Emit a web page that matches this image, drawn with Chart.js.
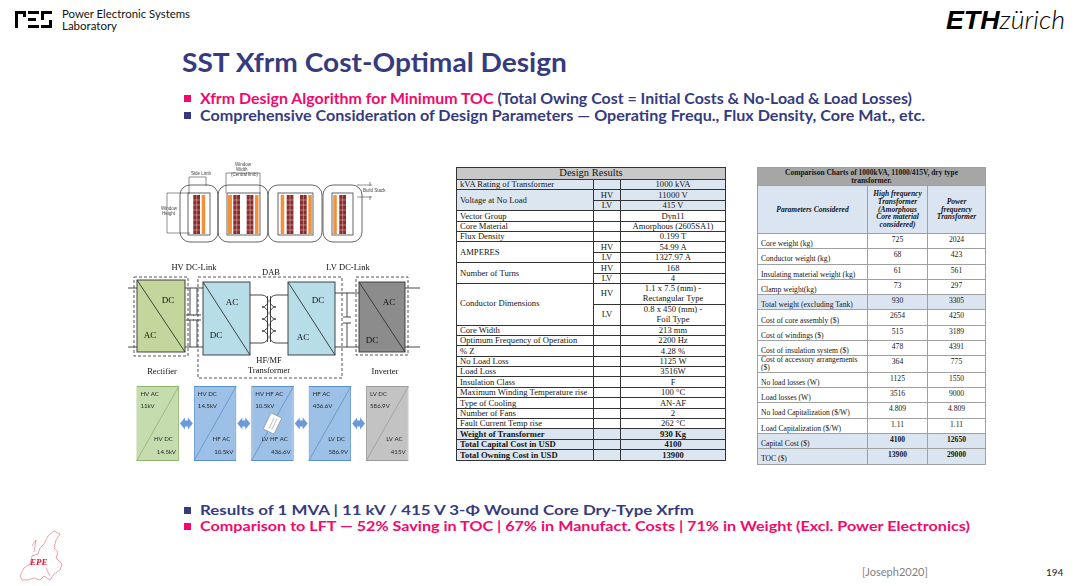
<!DOCTYPE html>
<html>
<head>
<meta charset="utf-8">
<script src="https://cdn.jsdelivr.net/npm/chart.js@4.4.1/dist/chart.umd.min.js"></script>
<style>
body { margin: 0; width: 1080px; height: 586px; background: #fff; position: relative; overflow: hidden; font-family: Lato, "Open Sans", sans-serif; }
.abs { position: absolute; white-space: nowrap; transform-origin: 0 0; line-height: 1; }
.navy { color: #363b80; }
.pink { color: #f2096b; }
.sq { position: absolute; width: 7px; height: 7px; }
table { position: absolute; border-collapse: collapse; table-layout: fixed; font-family: "Liberation Serif", serif; color: #151515; }
#design { left: 456px; top: 167px; width: 269px; font-size: 8.6px; }
#design td { border: 1px solid #333; padding: 0 3px; line-height: 1; height: 9.4px; white-space: nowrap; overflow: hidden; }
#design tr.dbl td { height: 19.8px; white-space: pre-line; line-height: 1.15; }
#design td.s, #design td.v { text-align: center; }
#design tr.hd td { background: #c8c8c8; text-align: center; font-size: 10.5px; height: 11px; }
#design tr.sh td { background: #dce6f1; }
#design tr.b td { font-weight: bold; }
#comp { left: 757px; top: 167px; width: 228px; font-size: 7.6px; }
#comp td { border: 0.7px solid #a0a0a0; padding: 0 3px; height: 14.3px; line-height: 0.95; }
#comp td.v { text-align: center; vertical-align: top; padding-top: 2px; height: 12.3px; }
#comp td.p { vertical-align: bottom; padding-bottom: 1px; height: 13.3px; }
#comp tr.hd td { background: #a6a6a6; font-weight: bold; text-align: center; height: 17px; font-size: 7.5px; vertical-align: middle; padding: 0; white-space: pre-line; line-height: 1.05; }
#comp tr.ch td { background: #dbe5f1; font-weight: bold; font-style: italic; text-align: center; height: 47px; vertical-align: middle; line-height: 1.05; font-size: 7.5px; }
#comp tr.sh td { background: #dbe5f1; }
#comp tr.b td.v { font-weight: bold; }
</style>
</head>
<body>

<div id="pes"></div>
<div class="abs fit" data-w="128" style="left:62px;top:8px;font-size:11.5px;color:#111">Power Electronic Systems</div>
<div class="abs" style="left:62px;top:19.8px;font-size:11.5px;color:#111">Laboratory</div>
<div class="abs fit" data-w="119" style="left:946px;top:7px;font-size:25px;color:#000"><b style="font-style:italic;font-weight:900;font-family:'Liberation Sans',Arial">ETH</b><span style="font-style:italic;font-weight:300">zürich</span></div>

<div class="abs navy fit" data-w="385" style="left:182px;top:49px;font-size:26px;font-weight:bold">SST Xfrm Cost-Optimal Design</div>

<div class="sq" style="left:184px;top:95px;background:#f2096b"></div>
<div class="abs fit" data-w="712" style="left:200px;top:90.8px;font-size:15px;font-weight:bold"><span class="pink">Xfrm Design Algorithm for Minimum TOC</span> <span class="navy">(Total Owing Cost = Initial Costs &amp; No-Load &amp; Load Losses)</span></div>
<div class="sq" style="left:184px;top:111.5px;background:#363b80"></div>
<div class="abs navy fit" data-w="725" style="left:200px;top:107.5px;font-size:15px;font-weight:bold">Comprehensive Consideration of Design Parameters — Operating Frequ., Flux Density, Core Mat., etc.</div>

<canvas id="sketch" width="300" height="230" style="position:absolute;left:125px;top:155px"></canvas>
<canvas id="stages" width="287" height="77" style="position:absolute;left:129px;top:385px"></canvas>
<canvas id="epe" width="60" height="60" style="position:absolute;left:10px;top:524px"></canvas>

<table id="design"><colgroup><col style="width:137px"><col style="width:27px"><col style="width:105px"></colgroup><tbody></tbody></table>
<table id="comp"><colgroup><col style="width:110px"><col style="width:60px"><col style="width:58px"></colgroup><tbody></tbody></table>

<div class="sq" style="left:184px;top:507px;background:#363b80"></div>
<div class="abs navy fit" data-w="494" style="left:200px;top:502.7px;font-size:14px;font-weight:bold">Results of 1 MVA | 11 kV / 415 V 3-Φ Wound Core Dry-Type Xrfm</div>
<div class="sq" style="left:184px;top:523px;background:#f2096b"></div>
<div class="abs pink fit" data-w="770" style="left:200px;top:519.4px;font-size:14px;font-weight:bold">Comparison to LFT —  52% Saving in TOC | 67% in Manufact. Costs | 71% in Weight (Excl. Power Electronics)</div>

<div class="abs" style="left:862px;top:566px;font-size:11px;color:#7f7f7f">[Joseph2020]</div>
<div class="abs" style="left:1046px;top:567px;font-size:10px;color:#222">194</div>

<script>
// design results table
const designTitle = "Design Results";
const designParams = ["kVA Rating of Transformer", "Voltage at No Load", "Vector Group", "Core Material", "Flux Density", "AMPERES", "Number of Turns", "Conductor Dimensions", "Core Width", "Optimum Frequency of Operation", "% Z", "No Load Loss", "Load Loss", "Insulation Class", "Maximum Winding Temperature rise", "Type of Cooling", "Number of Fans", "Fault Current Temp rise", "Weight of Transformer", "Total Capital Cost in USD", "Total Owning Cost in USD"];
const designSides = [[""], ["HV", "LV"], [""], [""], [""], ["HV", "LV"], ["HV", "LV"], ["HV", "LV"], [""], [""], [""], [""], [""], [""], [""], [""], [""], [""], [""], [""], [""]];
const designValues = [["1000 kVA"], ["11000 V", "415 V"], ["Dyn11"], ["Amorphous (2605SA1)"], ["0.199 T"], ["54.99 A", "1327.97 A"], ["168", "4"], ["1.1 x 7.5 (mm) -\nRectangular Type", "0.8 x 450 (mm) -\nFoil Type"], ["213 mm"], ["2200 Hz"], ["4.28 %"], ["1125 W"], ["3516W"], ["F"], ["100 °C"], ["AN-AF"], ["2"], ["262 °C"], ["930 Kg"], ["4100"], ["13900"]];
const designShaded = [0, 1, 18, 19, 20];
const designBold = [18, 19, 20];

// comparison table
const compTitle = "Comparison Charts of 1000kVA, 11000/415V, dry type\ntransformer.";
const compHeads = ["Parameters Considered", "High frequency Transformer (Amorphous Core material considered)", "Power frequency Transformer"];
const compParams = ["Core weight (kg)", "Conductor weight (kg)", "Insulating material weight (kg)", "Clamp weight(kg)", "Total weight (excluding Tank)", "Cost of core assembly ($)", "Cost of windings ($)", "Cost of insulation system ($)", "Cost of accessory arrangements ($)", "No load losses (W)", "Load losses (W)", "No load Capitalization ($/W)", "Load Capitalization ($/W)", "Capital Cost ($)", "TOC ($)"];
const hfValues = ["725", "68", "61", "73", "930", "2654", "515", "478", "364", "1125", "3516", "4.809", "1.11", "4100", "13900"];
const pfValues = ["2024", "423", "561", "297", "3305", "4250", "3189", "4391", "775", "1550", "9000", "4.809", "1.11", "12650", "29000"];
const compShaded = [4, 13, 14];
const compBold = [13, 14];

// converter stages of the block chain
const stageTop = ["HV AC", "HV DC", "HV HF AC", "HF AC", "LV DC"];
const stageTopV = ["11kV", "14.5kV", "10.5kV", "436.6V", "586.9V"];
const stageBottom = ["HV DC", "HF AC", "LV HF AC", "LV DC", "LV AC"];
const stageBottomV = ["14.5kV", "10.5kV", "436.6V", "586.9V", "415V"];
const stageFill = ["#c4dcae", "#9dc0e6", "#9dc0e6", "#9dc0e6", "#c3c3c3"];
const stageEdge = ["#8fb36a", "#5a8fca", "#5a8fca", "#5a8fca", "#9a9a9a"];

let html = `<tr class="hd"><td colspan="3">${designTitle}</td></tr>`;
designParams.forEach((p, i) => {
	const vals = designValues[i];
	let cls = (designShaded.includes(i) ? "sh " : "") + (designBold.includes(i) ? "b" : "");
	vals.forEach((v, j) => {
		html += `<tr class="${cls}${v.includes("\n") ? " dbl" : ""}">`;
		if (j === 0) html += `<td class="p" rowspan="${vals.length}">${p}</td>`;
		html += `<td class="s">${designSides[i][j]}</td><td class="v">${v}</td></tr>`;
	});
});
document.querySelector("#design tbody").innerHTML = html;

html = `<tr class="hd"><td colspan="3">${compTitle}</td></tr>`;
html += `<tr class="ch">${compHeads.map((h) => `<td>${h}</td>`).join("")}</tr>`;
compParams.forEach((p, i) => {
	let cls = (compShaded.includes(i) ? "sh " : "") + (compBold.includes(i) ? "b" : "");
	html += `<tr class="${cls}"><td class="p">${p}</td><td class="v">${hfValues[i]}</td><td class="v">${pfValues[i]}</td></tr>`;
});
document.querySelector("#comp tbody").innerHTML = html;

// PES logo bars
const pesBars = [[15, 11, 11, 2.6], [15, 11, 2.6, 17], [23.4, 11, 2.6, 6], [28, 11, 11, 2.6], [28, 18, 8, 2.6], [28, 25.4, 11, 2.6], [41, 11, 11, 2.6], [41, 11, 2.6, 9], [41, 25.4, 11, 2.6], [49.4, 20, 2.6, 8]];
document.getElementById("pes").innerHTML = pesBars.map((b) => `<div style="position:absolute;left:${b[0]}px;top:${b[1]}px;width:${b[2]}px;height:${b[3]}px;background:#000"></div>`).join("");

function rrect(c, x, y, w, h, r) {
	c.beginPath();
	c.moveTo(x + r, y);
	c.arcTo(x + w, y, x + w, y + h, r);
	c.arcTo(x + w, y + h, x, y + h, r);
	c.arcTo(x, y + h, x, y, r);
	c.arcTo(x, y, x + w, y, r);
	c.closePath();
	c.stroke();
}
function line(c, x1, y1, x2, y2) {
	c.beginPath(); c.moveTo(x1, y1); c.lineTo(x2, y2); c.stroke();
}

// EPE logo, a loose outline of Europe
const ep = document.getElementById("epe").getContext("2d");
ep.strokeStyle = "rgba(235,40,60,0.55)";
ep.lineWidth = 0.8;
ep.beginPath();
[[10, 52], [14, 44], [20, 40], [22, 32], [28, 30], [30, 24], [34, 20], [38, 12], [44, 7], [50, 10], [46, 16], [44, 24], [48, 28], [46, 34], [52, 40], [50, 46], [44, 50], [40, 56], [34, 52], [30, 56], [24, 54], [18, 56], [12, 56], [10, 52]].forEach((p, k) => (k ? ep.lineTo(p[0], p[1]) : ep.moveTo(p[0], p[1])));
ep.stroke();
line(ep, 22, 22, 26, 16); line(ep, 26, 16, 24, 28); line(ep, 36, 44, 40, 52);
ep.fillStyle = "#e8102a";
ep.font = "italic bold 9px 'Liberation Serif'";
ep.fillText("EPE", 20, 41);

// illustrations: core cross-section and SST topology
const sk = document.getElementById("sketch").getContext("2d");
sk.translate(-125, -155);

sk.strokeStyle = "#555";
sk.lineWidth = 0.9;
[[180, 185, 38, 57], [218, 185, 50, 57], [268, 185, 54, 57], [323, 185, 39, 57]].forEach((r) => rrect(sk, r[0], r[1], r[2], r[3], 10));
[[188, 193, 22, 42], [227, 193, 33, 42], [278, 193, 35, 42], [332, 193, 21, 42]].forEach((r) => sk.strokeRect(r[0], r[1], r[2], r[3]));
const coils = [[193.3, 6.7, "b"], [201.7, 3.5, "o"], [228, 4, "o"], [233.3, 6.7, "b"], [246.7, 6.7, "b"], [255, 3.5, "o"], [280.7, 3.5, "o"], [286.7, 6.7, "b"], [300, 6.7, "b"], [308.3, 3.5, "o"], [333.3, 3.5, "o"], [339.3, 6.7, "b"]];
coils.forEach(([x, w, t]) => {
	sk.fillStyle = t === "b" ? "#8a2c2c" : "#f1913a";
	sk.fillRect(x, 195, w, 39);
	if (t === "b") {
		sk.strokeStyle = "#e9caca";
		sk.lineWidth = 0.5;
		line(sk, x + w / 2, 195, x + w / 2, 234);
		for (let yy = 200; yy < 234; yy += 5) line(sk, x, yy, x + w, yy);
	}
});
sk.strokeStyle = "#444";
sk.lineWidth = 0.6;
line(sk, 189, 177, 206, 177); line(sk, 189, 177, 189, 193); line(sk, 206, 177, 206, 186);
line(sk, 226, 173, 260, 173); line(sk, 226, 173, 226, 193); line(sk, 260, 173, 260, 193);
line(sk, 167, 193, 167, 233); line(sk, 167, 193, 190, 193); line(sk, 167, 233, 190, 233);
line(sk, 357, 185, 372, 185); line(sk, 357, 197, 372, 197); line(sk, 370, 182, 370, 186); line(sk, 370, 196, 370, 200);
sk.fillStyle = "#444";
sk.font = "4.5px 'Liberation Sans'";
sk.fillText("Side Limb", 191, 175);
sk.fillText("Window", 235, 166); sk.fillText("Width", 236, 171); sk.fillText("(Central limb)", 231, 176);
sk.fillText("Window", 161, 210); sk.fillText("Height", 162, 215);
sk.fillText("Build Stack", 363, 192);

// topology
sk.lineWidth = 0.9;
sk.strokeStyle = "#333";
function conv(x, y, w, h, fill) {
	sk.fillStyle = fill;
	sk.fillRect(x, y, w, h);
	sk.strokeRect(x, y, w, h);
	line(sk, x, y, x + w, y + h);
}
function cap(x, y1, y2, gapTop, gapBot) {
	line(sk, x, y1, x, gapTop); line(sk, x - 4, gapTop, x + 4, gapTop);
	line(sk, x - 4, gapBot, x + 4, gapBot); line(sk, x, gapBot, x, y2);
}
line(sk, 128, 288, 137, 288); line(sk, 128, 347, 137, 347);
line(sk, 185, 288, 203, 288); line(sk, 185, 347, 203, 347);
line(sk, 335, 293, 359, 293); line(sk, 335, 347, 359, 347);
line(sk, 405, 288, 420, 288); line(sk, 405, 347, 420, 347);
cap(190, 288, 347, 315, 320); cap(197, 288, 347, 315, 320);
cap(347, 293, 347, 317, 323);
conv(137, 280, 48, 72, "#c3d69b");
conv(203, 282, 47, 73, "#b7dde8");
conv(288, 282, 47, 73, "#b7dde8");
conv(359, 282, 46, 70, "#8c8c8c");
// transformer windings
line(sk, 250, 295, 262, 295); line(sk, 250, 343, 262, 343);
line(sk, 276, 295, 288, 295); line(sk, 276, 343, 288, 343);
for (let k = 0; k < 4; k++) {
	sk.beginPath(); sk.arc(262, 301 + k * 12, 6, -Math.PI / 2, Math.PI / 2); sk.stroke();
	sk.beginPath(); sk.arc(276, 301 + k * 12, 6, Math.PI / 2, Math.PI * 1.5); sk.stroke();
}
line(sk, 267.5, 296, 267.5, 342); line(sk, 270.5, 296, 270.5, 342);
sk.strokeStyle = "#444";
sk.setLineDash([3, 2]);
sk.strokeRect(134, 277, 54, 79);
sk.strokeRect(198, 277, 144, 101);
sk.strokeRect(356, 277, 52, 78);
sk.setLineDash([]);
sk.fillStyle = "#111";
sk.font = "9px 'Liberation Serif'";
sk.textAlign = "center";
[["DC", 168, 303], ["AC", 150, 338], ["AC", 232, 305], ["DC", 216, 338], ["DC", 318, 303], ["AC", 303, 340], ["AC", 389, 305], ["DC", 372, 343]].forEach((t) => sk.fillText(t[0], t[1], t[2]));
sk.font = "8.5px 'Liberation Serif'";
[["HV DC-Link", 194, 270], ["DAB", 271, 275], ["LV DC-Link", 348, 270], ["HF/MF", 269, 363], ["Transformer", 269, 373], ["Rectifier", 162, 374], ["Inverter", 385, 374]].forEach((t) => sk.fillText(t[0], t[1], t[2]));

// converter chain drawn as floating bars
const stagePlugin = {
	id: "stageLabels",
	afterDatasetsDraw(chart) {
		const c = chart.ctx;
		const bars = chart.getDatasetMeta(0).data;
		c.save();
		bars.forEach((b, i) => {
			const { x, y, base, width } = b.getProps(["x", "y", "base", "width"], true);
			const l = x - width / 2, r = x + width / 2, cy = (y + base) / 2;
			c.strokeStyle = stageEdge[i];
			c.lineWidth = 0.8;
			line(c, l, base, r, y);
			c.fillStyle = "#262626";
			c.font = "6.1px Lato";
			c.textAlign = "left";
			c.fillText(stageTop[i], l + 4, y + 10);
			c.fillText(stageTopV[i], l + 4, y + 22);
			c.textAlign = "right";
			c.fillText(stageBottom[i], r - 6, base - 20);
			c.fillText(stageBottomV[i], r - 3, base - 7);
			if (i === 2) {
				c.save();
				c.translate(x, cy);
				c.rotate(0.45);
				c.fillStyle = "#fff";
				c.strokeStyle = "#999";
				c.fillRect(-6, -9, 12, 18);
				c.strokeRect(-6, -9, 12, 18);
				c.strokeStyle = "#666";
				c.lineWidth = 0.4;
				line(c, -1, -6, -1, 6); line(c, 2, -6, 2, 6);
				c.restore();
			}
			if (i < bars.length - 1) {
				const nx = bars[i + 1].getProps(["x", "width"], true);
				const ax = r + 1, bx = nx.x - nx.width / 2 - 1;
				c.fillStyle = "#6b9ad8";
				c.beginPath();
				c.moveTo(ax, cy); c.lineTo(ax + 5, cy - 6); c.lineTo(ax + 5, cy - 3); c.lineTo(bx - 5, cy - 3);
				c.lineTo(bx - 5, cy - 6); c.lineTo(bx, cy); c.lineTo(bx - 5, cy + 6); c.lineTo(bx - 5, cy + 3);
				c.lineTo(ax + 5, cy + 3); c.lineTo(ax + 5, cy + 6);
				c.closePath();
				c.fill();
			}
		});
		c.restore();
	},
};

new Chart(document.getElementById("stages"), {
	type: "bar",
	data: {
		labels: stageTop,
		datasets: [
			{
				data: stageTop.map(() => [0, 1]),
				backgroundColor: stageFill,
				borderColor: stageEdge,
				borderWidth: 1,
				borderSkipped: false,
				barPercentage: 0.74,
				categoryPercentage: 1,
			},
		],
	},
	options: {
		responsive: false,
		animation: false,
		events: [],
		layout: { padding: { top: 1, bottom: 1 } },
		plugins: { legend: { display: false }, tooltip: { enabled: false } },
		scales: {
			x: { display: false },
			y: { display: false, min: 0, max: 1 },
		},
	},
	plugins: [stagePlugin],
});

// squeeze text lines to the widths seen on the slide
function fitAll() {
	document.querySelectorAll(".fit").forEach((el) => {
		el.style.transform = "";
		const w = el.getBoundingClientRect().width;
		el.style.transform = `scaleX(${el.dataset.w / w})`;
	});
}
fitAll();
document.fonts.ready.then(fitAll);
</script>
</body>
</html>
